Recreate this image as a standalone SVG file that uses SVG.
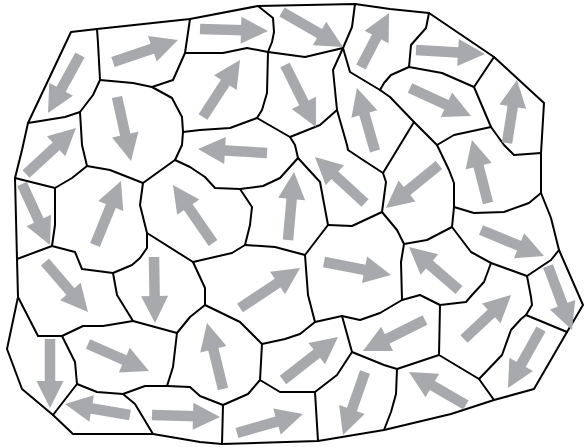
<svg xmlns="http://www.w3.org/2000/svg" width="584" height="447" viewBox="0 0 584 447">
<style>
.e{fill:none;stroke:#000;stroke-width:2;stroke-linejoin:round;stroke-linecap:round}
.a{stroke:#a7a9ac;stroke-width:10.5;stroke-linecap:butt;marker-end:url(#h)}
</style>
<defs>
<marker id="h" markerUnits="userSpaceOnUse" markerWidth="27" markerHeight="27" viewBox="0 -13.5 27 27" refX="13" refY="0" orient="auto" overflow="visible">
<polygon points="0,-13.5 27,0 0,13.5" fill="#a7a9ac"/>
</marker>
</defs>
<rect width="584" height="447" fill="#fff"/>
<g id="cells">
<polygon class="e" points="71,32 97,29 190,19 258,6 355,4 390,9 429,13 494,57 544,103 541,153 541,193 551,218 559,250 583,305 567,332 534,389 494,400 451,414 384,430 318,441 222,444 200,442 153,434 73,434 53,415 22,389 7,349 18,297 17,259 15,178 22,150 28,123"/>
<polyline class="e" points="97,29 98,43 100,80"/>
<polyline class="e" points="100,80 93,95 80,112 65,117 28,123"/>
<polyline class="e" points="80,112 82,145 87,166"/>
<polyline class="e" points="100,80 133,83 152,87 172,98 182,117 183,132 182,145 175,160"/>
<polyline class="e" points="183,132 200,130 230,128 257,118"/>
<polyline class="e" points="152,87 173,80 185,53 190,19"/>
<polyline class="e" points="185,53 223,53 247,48 268,52"/>
<polyline class="e" points="258,6 273,18 274,32 272,42 268,52"/>
<polyline class="e" points="268,52 305,57 343,48"/>
<polyline class="e" points="355,4 352,27 343,48"/>
<polyline class="e" points="343,48 333,70 337,110 347,145 348,150 360,158 383,173"/>
<polyline class="e" points="337,110 320,125 290,137 257,118"/>
<polyline class="e" points="268,52 267,93 262,110 257,118"/>
<polyline class="e" points="290,137 295,145 298,158"/>
<polyline class="e" points="343,48 350,72 380,90 390,97 414,122 437,145"/>
<polyline class="e" points="380,90 384,83 391,75 409,67"/>
<polyline class="e" points="429,13 426,28 411,45 409,67"/>
<polyline class="e" points="409,67 442,73 474,87"/>
<polyline class="e" points="474,87 494,57"/>
<polyline class="e" points="474,87 491,127"/>
<polyline class="e" points="491,127 454,135 437,145"/>
<polyline class="e" points="491,127 504,145 514,155 541,153"/>
<polyline class="e" points="414,122 383,173 386,182 382,212"/>
<polyline class="e" points="437,145 449,170 454,183 454,207 452,227"/>
<polyline class="e" points="454,207 474,213 504,212 529,203 541,193"/>
<polyline class="e" points="452,227 427,240 404,244"/>
<polyline class="e" points="404,244 397,230 382,212"/>
<polyline class="e" points="382,212 352,226 328,225"/>
<polyline class="e" points="298,158 320,182 328,225"/>
<polyline class="e" points="175,160 190,167 205,177 215,188 240,189 263,186 280,178 298,158"/>
<polyline class="e" points="87,166 110,170 143,183 175,160"/>
<polyline class="e" points="87,166 72,178 55,188 15,178"/>
<polyline class="e" points="55,188 55,225 52,246 17,259"/>
<polyline class="e" points="52,246 75,252 82,269 113,273 132,265 140,258 147,248 147,233 140,205 143,183"/>
<polyline class="e" points="147,233 193,262"/>
<polyline class="e" points="240,189 252,207 250,225 245,245"/>
<polyline class="e" points="245,245 275,247 305,255 328,225"/>
<polyline class="e" points="245,245 232,253 193,262"/>
<polyline class="e" points="193,262 205,288 205,305"/>
<polyline class="e" points="305,255 308,295 315,322"/>
<polyline class="e" points="404,244 401,262 402,300"/>
<polyline class="e" points="452,227 471,252 491,263 527,276"/>
<polyline class="e" points="527,276 551,260 559,250"/>
<polyline class="e" points="527,276 531,297 532,305 526,315"/>
<polyline class="e" points="491,263 484,282 472,295 466,302 440,305 420,295 402,300 380,313 360,320 342,316 315,322"/>
<polyline class="e" points="440,305 439,355"/>
<polyline class="e" points="439,355 397,369 384,365 352,352"/>
<polyline class="e" points="397,369 396,394 391,412 384,430"/>
<polyline class="e" points="439,355 479,379 494,400"/>
<polyline class="e" points="479,379 502,355 511,330 521,319 526,315 567,332"/>
<polyline class="e" points="342,316 352,352 337,375 315,392"/>
<polyline class="e" points="315,392 318,441"/>
<polyline class="e" points="315,392 280,392 260,380"/>
<polyline class="e" points="315,322 300,334 285,339 262,344"/>
<polyline class="e" points="262,344 260,380 248,394 223,405"/>
<polyline class="e" points="223,405 222,444"/>
<polyline class="e" points="223,405 200,396 190,387 167,386"/>
<polyline class="e" points="205,305 240,322 262,344"/>
<polyline class="e" points="205,305 190,317 177,333"/>
<polyline class="e" points="113,273 117,295 133,321"/>
<polyline class="e" points="133,321 177,333"/>
<polyline class="e" points="177,333 173,367 167,386"/>
<polyline class="e" points="167,386 145,386 123,394"/>
<polyline class="e" points="123,394 135,404 153,434"/>
<polyline class="e" points="123,394 97,392 77,384"/>
<polyline class="e" points="77,384 53,415"/>
<polyline class="e" points="77,384 75,362 62,336"/>
<polyline class="e" points="18,297 38,336 62,336 83,326 103,326 133,321"/>
</g>
<g id="arrows">
<line class="a" x1="80" y1="55" x2="54.8" y2="100.7"/>
<line class="a" x1="113" y1="62" x2="164.7" y2="44.5"/>
<line class="a" x1="200" y1="29" x2="254" y2="30.6"/>
<line class="a" x1="282" y1="12" x2="330.8" y2="40"/>
<line class="a" x1="361" y1="67" x2="382.6" y2="25.4"/>
<line class="a" x1="416" y1="50" x2="471" y2="53.2"/>
<line class="a" x1="410" y1="88" x2="458.3" y2="110.2"/>
<line class="a" x1="507" y1="143" x2="514.8" y2="93.8"/>
<line class="a" x1="117" y1="97" x2="128" y2="147.3"/>
<line class="a" x1="203" y1="117" x2="232.4" y2="71.7"/>
<line class="a" x1="285" y1="65" x2="309.7" y2="114.5"/>
<line class="a" x1="375" y1="151" x2="360.8" y2="101.5"/>
<line class="a" x1="267" y1="153" x2="212" y2="149.8"/>
<line class="a" x1="26" y1="174" x2="65.7" y2="137.5"/>
<line class="a" x1="22" y1="184" x2="44.2" y2="232.3"/>
<line class="a" x1="95" y1="245" x2="115.7" y2="194"/>
<line class="a" x1="213" y1="243" x2="180.9" y2="196.5"/>
<line class="a" x1="288" y1="240" x2="292.8" y2="186"/>
<line class="a" x1="365" y1="203" x2="325.3" y2="166.5"/>
<line class="a" x1="439" y1="165" x2="396.9" y2="199.2"/>
<line class="a" x1="488" y1="203" x2="475.4" y2="153.6"/>
<line class="a" x1="481" y1="230" x2="531.1" y2="250.7"/>
<line class="a" x1="548" y1="266" x2="567.1" y2="316.9"/>
<line class="a" x1="459" y1="290" x2="419.6" y2="256.1"/>
<line class="a" x1="324" y1="262" x2="377.3" y2="272.3"/>
<line class="a" x1="240" y1="308" x2="288.4" y2="275.8"/>
<line class="a" x1="45" y1="262" x2="78.9" y2="301.4"/>
<line class="a" x1="154" y1="257" x2="154.8" y2="309"/>
<line class="a" x1="223" y1="389" x2="210.3" y2="336.6"/>
<line class="a" x1="283" y1="380" x2="327" y2="345.6"/>
<line class="a" x1="365" y1="372" x2="347.6" y2="421.8"/>
<line class="a" x1="425" y1="320" x2="375.5" y2="344.7"/>
<line class="a" x1="464" y1="339" x2="500.8" y2="304.6"/>
<line class="a" x1="541" y1="329" x2="514.8" y2="375.8"/>
<line class="a" x1="466" y1="405" x2="421.1" y2="379"/>
<line class="a" x1="88" y1="344" x2="136.2" y2="365.3"/>
<line class="a" x1="50" y1="339" x2="50" y2="394"/>
<line class="a" x1="130" y1="415" x2="78.8" y2="406.3"/>
<line class="a" x1="152" y1="415" x2="206" y2="416.6"/>
<line class="a" x1="237" y1="433" x2="289.5" y2="417.9"/>
</g>
</svg>
